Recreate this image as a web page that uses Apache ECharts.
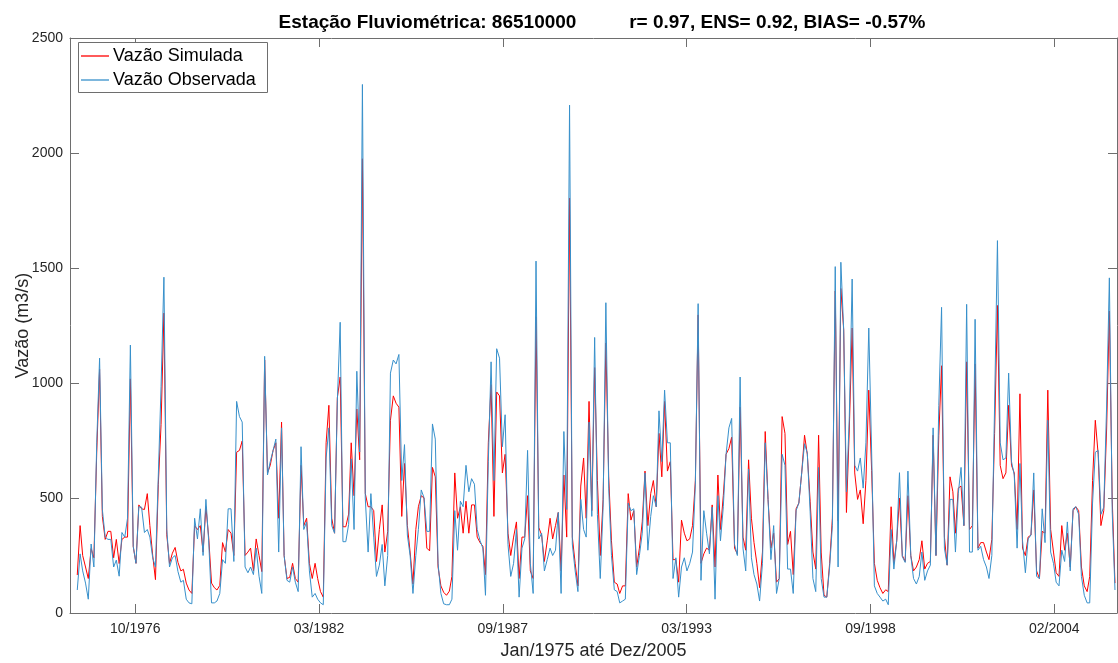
<!DOCTYPE html>
<html>
<head>
<meta charset="utf-8">
<title>Vazão Simulada x Observada - 86510000</title>
<script src="https://cdn.jsdelivr.net/npm/echarts@6/dist/echarts.min.js"></script>
<style>
    html, body { margin: 0; padding: 0; background: #fff; }
    #chart { width: 1118px; height: 663px; }
</style>
</head>
<body>
<div id="chart"></div>
<script>
// serie mensal jan/1975 - dez/2005 (m3/s)
var inicioAno = 1975;

var vazaoSimulada = [
    165, 380, 250, 200, 150, 280, 240, 700, 1060, 420, 320, 355, 355, 240, 320, 215, 320, 330, 330, 1018,
    290, 216, 470, 453, 450, 519, 380, 250, 145, 560, 820, 1304, 340, 215, 260, 285, 220, 183, 190, 130,
    100, 85, 380, 363, 380, 265, 462, 330, 130, 110, 100, 120, 306, 265, 363, 347, 250, 699, 707, 748,
    250, 265, 282, 183, 322, 250, 180, 1100, 609, 642, 707, 740, 412, 830, 250, 150, 155, 216, 150, 134,
    642, 380, 412, 216, 150, 216, 150, 93, 69, 740, 903, 412, 347, 936, 1026, 375, 375, 430, 740, 510,
    887, 666, 1975, 520, 462, 462, 445, 224, 363, 470, 265, 355, 838, 944, 912, 895, 420, 650, 380, 265,
    126, 363, 462, 510, 500, 282, 270, 633, 592, 200, 118, 90, 77, 95, 159, 609, 412, 462, 347, 486,
    347, 470, 470, 330, 306, 290, 167, 740, 993, 420, 961, 944, 609, 690, 347, 250, 330, 396, 150, 330,
    330, 510, 183, 150, 1288, 372, 339, 224, 314, 412, 322, 380, 437, 183, 600, 330, 1804, 330, 216, 118,
    552, 674, 412, 920, 445, 1067, 576, 250, 494, 1174, 592, 314, 134, 126, 85, 118, 118, 519, 404, 445,
    200, 282, 396, 617, 380, 519, 576, 462, 781, 592, 920, 617, 658, 232, 232, 134, 404, 347, 314, 322,
    380, 576, 1296, 216, 257, 282, 273, 470, 200, 600, 363, 510, 690, 715, 764, 282, 257, 895, 330, 273,
    666, 412, 306, 216, 110, 265, 789, 494, 282, 347, 134, 150, 854, 781, 298, 355, 167, 453, 478, 609,
    773, 690, 486, 265, 191, 773, 265, 77, 69, 216, 412, 1400, 400, 1411, 1231, 437, 800, 1239, 609, 494,
    535, 388, 576, 969, 620, 216, 142, 110, 85, 101, 93, 462, 216, 314, 500, 250, 224, 510, 250, 183,
    200, 232, 314, 191, 216, 224, 773, 250, 773, 1075, 330, 208, 592, 527, 347, 543, 552, 380, 1092, 363,
    380, 1083, 282, 306, 306, 265, 232, 320, 780, 1337, 642, 584, 609, 903, 642, 609, 363, 953, 282, 250,
    330, 339, 535, 183, 150, 355, 347, 969, 363, 265, 175, 159, 380, 273, 347, 200, 445, 462, 445, 200,
    118, 93, 159, 576, 838, 690, 380, 445, 800, 1313, 494, 130
];

var vazaoObservada = [
    100, 257, 183, 130, 60, 300, 200, 740, 1108, 450, 330, 320, 320, 200, 230, 160, 350, 330, 412, 1165,
    290, 216, 462, 460, 350, 363, 330, 240, 200, 600, 985, 1460, 363, 200, 240, 250, 180, 134, 142, 60,
    44, 40, 412, 322, 453, 250, 494, 314, 44, 44, 52, 85, 232, 216, 453, 453, 224, 920, 854, 830,
    200, 175, 200, 167, 282, 160, 85, 1116, 600, 658, 707, 756, 265, 805, 250, 142, 134, 200, 134, 93,
    723, 363, 396, 183, 69, 85, 60, 44, 36, 674, 805, 380, 347, 920, 1264, 310, 310, 385, 670, 363,
    1051, 700, 2298, 500, 265, 519, 330, 159, 208, 298, 118, 250, 1043, 1100, 1083, 1124, 576, 732, 339, 250,
    85, 250, 363, 535, 502, 355, 355, 822, 756, 216, 85, 40, 36, 36, 60, 445, 273, 486, 462, 642,
    527, 584, 560, 363, 314, 282, 77, 658, 1092, 576, 1149, 1108, 723, 862, 298, 159, 216, 363, 69, 282,
    322, 707, 216, 85, 1530, 322, 347, 183, 232, 282, 250, 273, 437, 85, 789, 450, 2208, 300, 183, 93,
    494, 363, 330, 830, 420, 1198, 429, 150, 460, 1349, 543, 250, 101, 93, 44, 52, 60, 478, 445, 453,
    167, 250, 347, 609, 273, 420, 510, 462, 879, 658, 969, 740, 740, 150, 240, 69, 200, 240, 183, 216,
    265, 560, 1345, 142, 445, 347, 257, 460, 60, 510, 314, 462, 690, 805, 846, 298, 250, 1026, 282, 183,
    625, 240, 167, 126, 52, 216, 740, 494, 232, 380, 85, 150, 690, 642, 191, 191, 85, 445, 478, 609,
    736, 695, 440, 150, 93, 633, 150, 69, 69, 200, 380, 1506, 200, 1525, 1231, 527, 850, 1452, 642, 617,
    674, 543, 740, 1239, 700, 118, 85, 69, 52, 60, 36, 363, 191, 314, 610, 245, 220, 617, 250, 150,
    126, 159, 265, 142, 183, 208, 805, 250, 903, 1329, 282, 208, 494, 494, 265, 520, 633, 380, 1342, 265,
    265, 1277, 273, 290, 232, 200, 150, 250, 900, 1619, 740, 666, 674, 1043, 658, 600, 282, 650, 314, 175,
    322, 339, 609, 159, 150, 453, 306, 838, 265, 216, 134, 118, 273, 224, 396, 183, 453, 462, 429, 159,
    77, 44, 44, 478, 699, 707, 429, 460, 900, 1457, 440, 100
];

// ticks do datetick do matlab (passo de 2000 dias)
var tickDatas = ['1976-10-07', '1982-03-30', '1987-09-20', '1993-03-12', '1998-09-02', '2004-02-23'];
var tickLabels = ['10/1976', '03/1982', '09/1987', '03/1993', '09/1998', '02/2004'];

var fonte = '"Liberation Sans", Arial, Helvetica, sans-serif';
var corTexto = '#262626';
var corEixo = '#6e6e6e';
var corSim = '#ff0000';
var corObs = '#3790cb';

function ts(s) {
    var p = s.split('-');
    return Date.UTC(+p[0], +p[1] - 1, +p[2]);
}

var tickTempos = tickDatas.map(ts);
var xMin = ts('1974-10-28');
var xMax = ts('2006-01-06');

function montaSerie(valores) {
    var out = [];
    for (var i = 0; i < valores.length; i++) {
        out.push([Date.UTC(inicioAno, i, 15), valores[i]]);
    }
    return out;
}

// legenda no estilo do matlab (caixa, traco e texto)
function itemLegenda(nome, cor, y) {
    return [
        {type: 'line', z: 10, shape: {x1: 81, y1: y, x2: 109, y2: y}, style: {stroke: cor, lineWidth: 1.3}},
        {type: 'text', z: 10, x: 113, y: y, style: {text: nome, fill: '#000', font: '18px ' + fonte, verticalAlign: 'middle'}}
    ];
}

var myChart = echarts.init(document.getElementById('chart'), null, {renderer: 'canvas'});

var eixoX = {
    type: 'value',
    min: xMin,
    max: xMax,
    axisLine: {show: true, onZero: false, lineStyle: {color: corEixo, width: 1}},
    axisTick: {show: true, inside: true, length: 9, customValues: tickTempos, lineStyle: {color: corEixo}},
    splitLine: {show: false}
};

var eixoY = {
    type: 'value',
    min: 0,
    max: 2500,
    interval: 500,
    axisLine: {show: true, lineStyle: {color: corEixo, width: 1}},
    axisTick: {show: true, inside: true, length: 9, lineStyle: {color: corEixo}},
    splitLine: {show: false}
};

var option = {
    animation: false,
    backgroundColor: '#ffffff',
    title: {
        text: 'Estação Fluviométrica: 86510000          r= 0.97, ENS= 0.92, BIAS= -0.57%',
        left: 597,
        top: 8,
        textAlign: 'center',
        textStyle: {fontFamily: fonte, fontSize: 19, fontWeight: 'bold', color: '#000'}
    },
    graphic: [
        {type: 'rect', z: 9, shape: {x: 78.5, y: 42.5, width: 189, height: 50}, style: {fill: '#fff', stroke: corEixo, lineWidth: 1}}
    ].concat(itemLegenda('Vazão Simulada', corSim, 56), itemLegenda('Vazão Observada', corObs, 80)),
    grid: {left: 70, right: 1, top: 38, bottom: 50, containLabel: false, outerBoundsMode: 'none'},
    xAxis: [
        echarts.util.merge({
            position: 'bottom',
            name: 'Jan/1975 até Dez/2005',
            nameLocation: 'middle',
            nameGap: 29,
            nameMoveOverlap: false,
            nameTextStyle: {fontFamily: fonte, fontSize: 18, color: corTexto, verticalAlign: 'top'},
            axisLabel: {
                show: true,
                customValues: tickTempos,
                margin: 9,
                fontFamily: fonte,
                fontSize: 14,
                color: corTexto,
                formatter: function (v) {
                    var k = tickTempos.indexOf(v);
                    return k >= 0 ? tickLabels[k] : '';
                }
            }
        }, eixoX, true),
        echarts.util.merge({
            position: 'top',
            axisLabel: {show: false}
        }, eixoX, true)
    ],
    yAxis: [
        echarts.util.merge({
            position: 'left',
            name: 'Vazão (m3/s)',
            nameLocation: 'middle',
            nameGap: 47,
            nameMoveOverlap: false,
            nameTextStyle: {fontFamily: fonte, fontSize: 18, color: corTexto, verticalAlign: 'middle'},
            axisLabel: {
                margin: 7,
                fontFamily: fonte,
                fontSize: 14,
                color: corTexto,
                formatter: function (v) { return String(v); }
            }
        }, eixoY, true),
        echarts.util.merge({
            position: 'right',
            axisLabel: {show: false}
        }, eixoY, true)
    ],
    series: [
        {
            name: 'Vazão Simulada',
            type: 'line',
            xAxisIndex: 0,
            yAxisIndex: 0,
            symbol: 'none',
            data: montaSerie(vazaoSimulada),
            lineStyle: {color: corSim, width: 1},
            itemStyle: {color: corSim}
        },
        {
            name: 'Vazão Observada',
            type: 'line',
            xAxisIndex: 0,
            yAxisIndex: 0,
            symbol: 'none',
            data: montaSerie(vazaoObservada),
            lineStyle: {color: corObs, width: 1},
            itemStyle: {color: corObs}
        }
    ]
};

myChart.setOption(option);
</script>
</body>
</html>
